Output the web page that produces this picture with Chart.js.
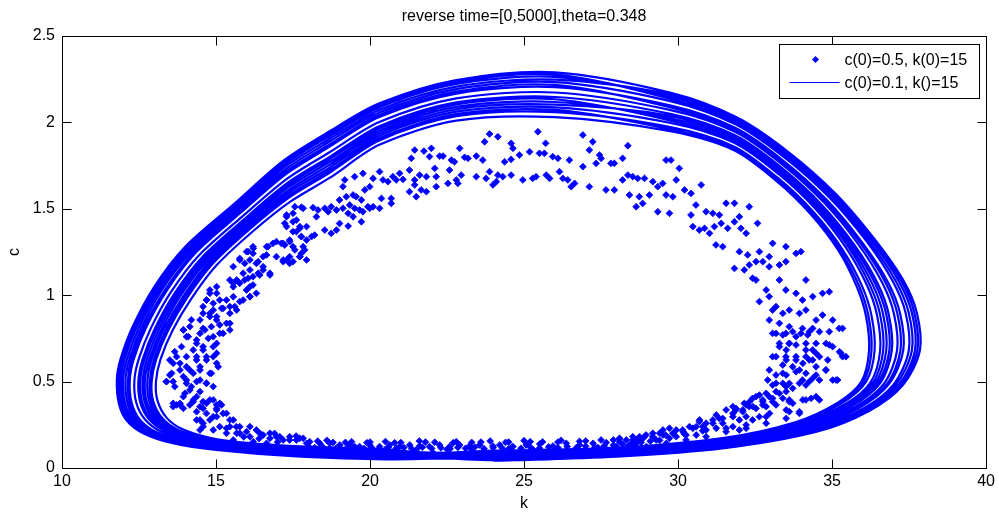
<!DOCTYPE html>
<html>
<head>
<meta charset="utf-8">
<script src="https://cdn.jsdelivr.net/npm/chart.js@4.4.1/dist/chart.umd.min.js"></script>
<style>
html,body{margin:0;padding:0;background:#fff;}
#wrap{width:999px;height:517px;}
</style>
</head>
<body>
<div id="wrap"><canvas id="c" width="999" height="517"></canvas></div>
<script>
// ---------- text ----------
const TITLE_TEXT = 'reverse time=[0,5000],theta=0.348';
const X_LABEL = 'k';
const Y_LABEL = 'c';
const SCATTER_LABEL = 'c(0)=0.5, k(0)=15';
const LINE_LABEL = 'c(0)=0.1, k()=15';

// ---------- ticks ----------
const xTicks = [10, 15, 20, 25, 30, 35, 40];
const yTicks = [0, 0.5, 1, 1.5, 2, 2.5];

// ---------- trajectory c(0)=0.1, k(0)=15 : loops of the limit cycle band [k, c] ----------
const loop0 = [[24.0,0.042],[28.0,0.066],[31.5,0.115],[34.5,0.21],[36.2,0.33],[37.3,0.48],[37.85,0.68],[37.75,0.9],[37.3,1.09],[36.4,1.32],[35.1,1.59],[33.5,1.84],[31.9,2.03],[29.8,2.17],[26.0,2.29],[22.8,2.245],[20.3,2.11],[18.7,1.95],[17.2,1.78],[15.6,1.53],[14.0,1.28],[13.0,1.05],[12.3,0.82],[11.9,0.63],[11.78,0.51],[11.85,0.37],[12.1,0.275],[12.65,0.2],[13.6,0.143],[15.0,0.104],[17.5,0.068],[20.5,0.05]];
const loop1 = [[24.0,0.048],[28.0,0.071],[31.5,0.121],[34.43,0.216],[36.1,0.335],[37.17,0.482],[37.69,0.68],[37.59,0.898],[37.15,1.086],[36.28,1.314],[35.02,1.578],[33.47,1.822],[31.89,2.011],[29.79,2.148],[26.0,2.264],[22.8,2.222],[20.3,2.086],[18.7,1.923],[17.22,1.756],[15.66,1.514],[14.1,1.269],[13.12,1.043],[12.43,0.818],[12.03,0.63],[11.91,0.51],[11.98,0.372],[12.23,0.277],[12.78,0.203],[13.72,0.146],[15.1,0.108],[17.52,0.074],[20.5,0.056]];
const loop2 = [[24.0,0.055],[28.0,0.077],[31.5,0.128],[34.35,0.222],[35.98,0.341],[37.0,0.484],[37.49,0.68],[37.39,0.896],[36.97,1.081],[36.14,1.307],[34.92,1.564],[33.43,1.8],[31.88,1.988],[29.78,2.122],[26.0,2.233],[22.8,2.193],[20.3,2.057],[18.7,1.891],[17.24,1.727],[15.73,1.495],[14.22,1.256],[13.26,1.035],[12.59,0.816],[12.19,0.63],[12.06,0.508],[12.13,0.374],[12.39,0.278],[12.93,0.206],[13.86,0.15],[15.22,0.113],[17.54,0.081],[20.5,0.063]];
const loop3 = [[24.0,0.061],[28.0,0.083],[31.5,0.135],[34.27,0.228],[35.87,0.347],[36.85,0.487],[37.31,0.68],[37.21,0.893],[36.81,1.077],[36.0,1.3],[34.84,1.55],[33.4,1.781],[31.87,1.967],[29.77,2.097],[26.0,2.204],[22.8,2.167],[20.3,2.031],[18.7,1.861],[17.27,1.701],[15.8,1.477],[14.33,1.244],[13.4,1.027],[12.73,0.813],[12.33,0.63],[12.2,0.507],[12.26,0.377],[12.53,0.28],[13.06,0.208],[14.0,0.154],[15.33,0.118],[17.57,0.087],[20.5,0.069]];
const loop4 = [[24.0,0.068],[28.0,0.089],[31.5,0.142],[34.19,0.235],[35.75,0.353],[36.69,0.489],[37.11,0.68],[37.01,0.891],[36.63,1.072],[35.86,1.293],[34.74,1.536],[33.37,1.759],[31.86,1.945],[29.76,2.071],[26.0,2.173],[22.8,2.139],[20.3,2.002],[18.7,1.829],[17.29,1.672],[15.87,1.458],[14.45,1.231],[13.54,1.019],[12.89,0.811],[12.49,0.63],[12.35,0.506],[12.41,0.379],[12.69,0.282],[13.21,0.211],[14.14,0.157],[15.45,0.122],[17.59,0.094],[20.5,0.076]];
const loop5 = [[24.0,0.074],[28.0,0.095],[31.5,0.148],[34.12,0.24],[35.65,0.358],[36.56,0.491],[36.94,0.68],[36.84,0.889],[36.48,1.068],[35.74,1.287],[34.66,1.524],[33.34,1.741],[31.85,1.925],[29.75,2.049],[26.0,2.147],[22.8,2.116],[20.3,1.978],[18.7,1.802],[17.31,1.648],[15.93,1.442],[14.55,1.22],[13.66,1.012],[13.02,0.809],[12.62,0.63],[12.48,0.505],[12.54,0.381],[12.82,0.283],[13.34,0.214],[14.26,0.161],[15.55,0.127],[17.61,0.099],[20.5,0.082]];
const loop6 = [[24.0,0.08],[28.0,0.1],[31.5,0.155],[34.04,0.246],[35.54,0.363],[36.41,0.493],[36.76,0.68],[36.66,0.887],[36.31,1.064],[35.61,1.28],[34.57,1.511],[33.3,1.721],[31.83,1.905],[29.73,2.025],[26.0,2.118],[22.8,2.09],[20.3,1.952],[18.7,1.772],[17.33,1.622],[16.0,1.424],[14.66,1.207],[13.79,1.004],[13.16,0.807],[12.76,0.63],[12.62,0.503],[12.68,0.383],[12.96,0.285],[13.48,0.217],[14.39,0.164],[15.66,0.131],[17.63,0.106],[20.5,0.088]];
const loop7 = [[24.0,0.087],[28.0,0.107],[31.5,0.162],[33.95,0.253],[35.42,0.369],[36.25,0.496],[36.56,0.68],[36.46,0.884],[36.13,1.059],[35.46,1.273],[34.48,1.496],[33.27,1.7],[31.82,1.882],[29.72,1.998],[26.0,2.087],[22.8,2.062],[20.3,1.923],[18.7,1.739],[17.36,1.593],[16.07,1.405],[14.78,1.194],[13.94,0.995],[13.31,0.804],[12.91,0.63],[12.77,0.502],[12.83,0.386],[13.11,0.287],[13.63,0.22],[14.54,0.168],[15.78,0.136],[17.66,0.112],[20.5,0.095]];
const loop8 = [[24.0,0.094],[28.0,0.112],[31.5,0.168],[33.88,0.259],[35.31,0.375],[36.1,0.498],[36.38,0.68],[36.28,0.882],[35.97,1.054],[35.33,1.267],[34.39,1.483],[33.23,1.68],[31.81,1.861],[29.71,1.974],[26.0,2.059],[22.8,2.036],[20.3,1.896],[18.7,1.71],[17.38,1.566],[16.13,1.388],[14.89,1.182],[14.07,0.988],[13.46,0.802],[13.06,0.63],[12.91,0.501],[12.96,0.388],[13.26,0.288],[13.76,0.222],[14.67,0.171],[15.89,0.14],[17.68,0.119],[20.5,0.102]];
const loop9 = [[24.0,0.1],[28.0,0.118],[31.5,0.175],[33.8,0.265],[35.2,0.38],[35.95,0.5],[36.2,0.68],[36.1,0.88],[35.8,1.05],[35.2,1.26],[34.3,1.47],[33.2,1.66],[31.8,1.84],[29.7,1.95],[26.0,2.03],[22.8,2.01],[20.3,1.87],[18.7,1.68],[17.4,1.54],[16.2,1.37],[15.0,1.17],[14.2,0.98],[13.6,0.8],[13.2,0.63],[13.05,0.5],[13.1,0.39],[13.4,0.29],[13.9,0.225],[14.8,0.175],[16.0,0.145],[17.7,0.125],[20.5,0.108]];
const loop10 = [[24.0,0.045],[28.0,0.069],[31.5,0.118],[34.47,0.213],[36.15,0.333],[37.23,0.481],[37.77,0.68],[37.67,0.899],[37.23,1.088],[36.34,1.317],[35.06,1.584],[33.49,1.831],[31.9,2.02],[29.8,2.159],[26.0,2.248],[22.8,2.207],[20.3,2.072],[18.7,1.907],[17.23,1.742],[15.7,1.504],[14.16,1.262],[13.19,1.039],[12.51,0.817],[12.11,0.63],[11.98,0.508],[12.05,0.373],[12.31,0.277],[12.85,0.204],[13.79,0.148],[15.16,0.111],[17.53,0.077],[20.5,0.059]];
const loop11 = [[24.0,0.051],[28.0,0.074],[31.5,0.125],[34.39,0.219],[36.04,0.338],[37.08,0.483],[37.59,0.68],[37.49,0.897],[37.06,1.084],[36.21,1.31],[34.97,1.571],[33.45,1.811],[31.88,2.0],[29.78,2.135],[26.0,2.277],[22.8,2.233],[20.3,2.098],[18.7,1.937],[17.21,1.768],[15.63,1.522],[14.05,1.275],[13.06,1.047],[12.37,0.819],[11.97,0.63],[11.84,0.51],[11.91,0.371],[12.17,0.276],[12.71,0.201],[13.66,0.145],[15.05,0.106],[17.51,0.071],[20.5,0.053]];
const loop12 = [[24.0,0.064],[28.0,0.086],[31.5,0.138],[34.23,0.231],[35.82,0.349],[36.79,0.488],[37.22,0.68],[37.12,0.892],[36.73,1.075],[35.94,1.297],[34.8,1.544],[33.39,1.772],[31.86,1.958],[29.76,2.086],[26.0,2.217],[22.8,2.179],[20.3,2.043],[18.7,1.874],[17.26,1.713],[15.77,1.485],[14.28,1.249],[13.34,1.03],[12.66,0.814],[12.26,0.63],[12.14,0.507],[12.2,0.376],[12.46,0.279],[13.0,0.207],[13.94,0.152],[15.28,0.115],[17.56,0.084],[20.5,0.066]];
const loop13 = [[24.0,0.077],[28.0,0.097],[31.5,0.151],[34.08,0.243],[35.6,0.36],[36.49,0.492],[36.86,0.68],[36.76,0.888],[36.4,1.066],[35.68,1.284],[34.62,1.518],[33.32,1.732],[31.84,1.916],[29.74,2.038],[26.0,2.103],[22.8,2.076],[20.3,1.937],[18.7,1.756],[17.34,1.607],[16.03,1.415],[14.72,1.201],[13.86,1.0],[13.24,0.806],[12.84,0.63],[12.69,0.503],[12.75,0.384],[13.04,0.286],[13.55,0.218],[14.46,0.166],[15.72,0.134],[17.64,0.109],[20.5,0.092]];
const loop14 = [[24.0,0.084],[28.0,0.103],[31.5,0.158],[34.0,0.25],[35.48,0.366],[36.33,0.494],[36.66,0.68],[36.56,0.886],[36.22,1.061],[35.54,1.277],[34.52,1.504],[33.28,1.71],[31.83,1.893],[29.73,2.012],[26.0,2.134],[22.8,2.104],[20.3,1.966],[18.7,1.788],[17.32,1.636],[15.96,1.434],[14.6,1.214],[13.72,1.008],[13.08,0.808],[12.68,0.63],[12.54,0.504],[12.6,0.382],[12.88,0.284],[13.4,0.215],[14.32,0.162],[15.6,0.129],[17.62,0.102],[20.5,0.085]];
const loop15 = [[24.0,0.097],[28.0,0.115],[31.5,0.172],[33.84,0.262],[35.25,0.378],[36.02,0.499],[36.28,0.68],[36.18,0.881],[35.88,1.052],[35.26,1.263],[34.34,1.476],[33.22,1.669],[31.81,1.85],[29.71,1.961],[26.0,2.072],[22.8,2.048],[20.3,1.908],[18.7,1.723],[17.37,1.578],[16.1,1.396],[14.84,1.188],[14.01,0.991],[13.39,0.803],[12.99,0.63],[12.85,0.502],[12.9,0.387],[13.19,0.288],[13.7,0.221],[14.61,0.17],[15.84,0.138],[17.67,0.116],[20.5,0.099]];

// ---------- scattered run c(0)=0.5, k(0)=15 [k, c] ----------
const scatterTop = [[25.45,1.946],[23.88,1.933],[24.15,1.917],[26.91,1.927],[27.23,1.888],[23.72,1.888],[24.58,1.879],[25.70,1.879],[28.37,1.865],[22.91,1.850],[21.45,1.840],[21.99,1.850],[21.75,1.834],[24.64,1.850],[25.18,1.830],[25.50,1.821],[25.66,1.821],[27.12,1.840],[27.45,1.811],[27.50,1.792],[23.45,1.805],[23.07,1.798],[23.18,1.792],[22.64,1.782],[22.74,1.772],[22.37,1.805],[22.26,1.805],[23.66,1.782],[24.85,1.811],[24.58,1.786],[24.37,1.772],[25.93,1.802],[26.10,1.792],[26.47,1.782],[27.82,1.763],[27.93,1.763],[26.91,1.744],[27.34,1.763],[28.20,1.792],[29.61,1.782],[21.34,1.792],[21.93,1.802],[20.96,1.705],[21.28,1.724],[21.61,1.695],[20.74,1.686],[20.31,1.715],[20.10,1.676],[19.77,1.705],[19.50,1.686],[19.18,1.667],[20.42,1.667],[20.58,1.657],[20.85,1.667],[21.07,1.670],[21.45,1.667],[21.83,1.686],[22.10,1.734],[22.15,1.686],[22.58,1.724],[22.96,1.695],[23.45,1.686],[23.77,1.676],[23.88,1.715],[24.15,1.695],[24.31,1.686],[24.58,1.695],[24.96,1.667],[25.28,1.676],[25.39,1.686],[25.72,1.695],[25.83,1.676],[26.15,1.715],[26.26,1.676],[26.42,1.667],[26.64,1.647],[26.53,1.628],[27.12,1.628],[27.66,1.609],[27.93,1.609],[28.20,1.667],[28.37,1.695],[28.53,1.686],[28.69,1.676],[28.91,1.676],[29.18,1.657],[29.34,1.628],[29.50,1.647],[29.61,1.580],[29.07,1.580],[28.74,1.570],[28.85,1.531],[28.64,1.512],[29.34,1.483],[28.42,1.580],[19.99,1.628],[19.83,1.609],[21.28,1.599],[21.45,1.638],[21.66,1.609],[21.83,1.599],[21.50,1.570],[22.15,1.628],[22.53,1.647],[22.80,1.667],[22.85,1.647],[24.10,1.657],[23.99,1.638],[19.12,1.628],[19.01,1.551],[19.23,1.570],[19.45,1.580],[19.55,1.570],[19.72,1.551],[19.34,1.522],[19.50,1.503],[19.66,1.493],[19.77,1.483],[19.99,1.503],[20.10,1.512],[20.31,1.503],[20.37,1.560],[20.69,1.560],[20.69,1.531],[18.74,1.512],[18.91,1.493],[19.12,1.503],[19.29,1.474],[19.45,1.454],[19.72,1.425],[19.01,1.415],[19.29,1.400],[18.91,1.377],[18.74,1.358],[19.93,1.512]];
const scatterLeft = [[17.77,1.509],[18.15,1.507],[18.31,1.493],[18.53,1.503],[18.64,1.483],[18.26,1.454],[17.29,1.464],[17.50,1.474],[17.23,1.416],[17.61,1.435],[17.72,1.387],[17.50,1.368],[17.77,1.339],[17.94,1.397],[18.10,1.339],[18.20,1.348],[18.53,1.377],[16.85,1.300],[17.12,1.300],[17.23,1.290],[17.39,1.310],[17.50,1.281],[17.56,1.262],[17.77,1.242],[16.64,1.281],[16.20,1.281],[16.04,1.252],[15.77,1.204],[15.93,1.184],[16.20,1.242],[16.37,1.194],[16.53,1.223],[16.75,1.117],[17.18,1.194],[17.29,1.204],[17.39,1.184],[17.50,1.194],[17.72,1.223],[17.88,1.262],[15.56,1.165],[15.45,1.088],[15.56,1.069],[15.72,1.078],[15.93,1.088],[16.04,1.098],[16.20,1.107],[16.37,1.127],[16.53,1.146],[16.20,1.059],[15.99,1.030],[16.10,0.992],[15.77,0.963],[15.61,0.934],[15.45,0.895],[15.02,1.011],[14.80,1.030],[15.12,0.972],[15.23,0.924],[14.91,0.914],[14.69,0.972],[14.58,0.895],[14.48,0.857],[14.64,0.799],[14.80,0.876],[15.02,0.857],[15.34,0.837],[15.45,0.799],[15.12,0.779],[14.91,0.760],[15.02,0.721],[14.58,0.702],[14.37,0.741],[14.20,0.857],[13.94,0.799],[14.04,0.760],[13.88,0.702],[14.37,0.644],[14.69,0.644],[14.91,0.644],[14.48,0.586],[14.26,0.548],[14.04,0.586],[13.72,0.644],[13.61,0.606],[13.83,0.567],[13.39,0.500],[13.50,0.538],[13.66,0.471],[14.04,0.509],[14.20,0.471],[14.48,0.509],[14.69,0.490],[14.85,0.548],[15.07,0.586],[13.99,0.432],[14.37,0.413],[14.80,0.394],[14.15,0.365],[13.83,0.365],[15.02,0.365],[14.58,0.345],[13.61,0.374],[17.56,1.512],[17.83,1.503],[17.29,1.454],[17.50,1.425],[17.72,1.397],[17.29,1.397],[17.61,1.368],[17.77,1.339],[17.94,1.319],[17.39,1.319],[17.18,1.300],[16.96,1.310],[16.69,1.281],[16.64,1.233],[16.96,1.223],[17.18,1.204],[17.39,1.223],[17.72,1.223],[17.83,1.281],[17.94,1.204],[16.21,1.271],[15.99,1.252],[15.77,1.213],[16.10,1.204],[16.31,1.184],[16.53,1.165],[16.75,1.127],[16.42,1.117],[16.10,1.146],[15.88,1.127],[15.67,1.088],[15.56,1.049],[15.77,1.069],[16.10,1.049],[16.31,1.011],[16.10,0.991],[15.88,0.972],[15.56,0.991],[15.34,0.972],[15.02,1.049],[14.80,1.011],[14.69,0.972],[14.58,0.934],[14.91,0.953],[15.18,0.924],[15.45,0.934],[15.67,0.914],[14.80,0.895],[15.02,0.876],[13.94,0.799],[14.15,0.818],[14.10,0.760],[14.48,0.779],[14.58,0.808],[14.85,0.818],[15.12,0.828],[15.45,0.837],[15.23,0.779],[14.75,0.750],[14.37,0.721],[14.26,0.683],[14.58,0.683],[14.91,0.702],[15.02,0.664],[13.66,0.673],[13.50,0.625],[13.83,0.606],[14.04,0.644],[14.37,0.625],[14.69,0.625],[15.02,0.606],[14.15,0.567],[14.48,0.567],[14.80,0.548],[13.94,0.529],[13.56,0.548],[13.39,0.500],[13.61,0.500],[14.04,0.490],[14.37,0.500],[14.69,0.490],[14.91,0.471],[14.15,0.451],[14.48,0.442],[13.94,0.413],[14.26,0.394],[13.72,0.365],[13.94,0.345],[14.58,0.384],[14.91,0.394],[15.18,0.365],[14.37,0.326],[14.69,0.316],[15.02,0.336],[14.48,0.278],[14.80,0.278],[15.02,0.297],[15.34,0.316],[15.56,0.278],[15.12,0.239],[15.45,0.239],[15.77,0.239],[15.99,0.210],[16.31,0.220],[16.10,0.181],[16.53,0.191],[16.75,0.172],[16.96,0.181],[17.18,0.162],[17.39,0.181],[17.61,0.162],[17.83,0.172],[17.94,0.143],[16.64,0.143],[14.58,0.239],[15.34,0.201],[15.67,0.201]];
const scatterBottom = [[13.61,0.355],[13.83,0.374],[14.26,0.384],[14.48,0.355],[14.69,0.374],[15.02,0.345],[15.12,0.374],[14.37,0.278],[14.58,0.259],[14.91,0.297],[15.23,0.316],[15.45,0.278],[15.66,0.239],[14.48,0.220],[14.91,0.220],[15.34,0.230],[15.77,0.201],[16.10,0.239],[16.42,0.201],[16.75,0.201],[17.07,0.181],[17.39,0.162],[17.72,0.172],[18.04,0.152],[18.37,0.143],[18.69,0.143],[19.02,0.133],[19.34,0.133],[19.66,0.124],[19.99,0.133],[20.31,0.124],[20.64,0.133],[20.96,0.124],[21.29,0.133],[21.61,0.127],[21.93,0.124],[22.26,0.133],[22.58,0.124],[22.91,0.133],[23.23,0.127],[23.56,0.133],[23.99,0.127],[15.56,0.162],[16.21,0.152],[16.96,0.124],[17.72,0.104],[18.37,0.094],[19.23,0.094],[20.21,0.094],[20.96,0.085],[22.04,0.089],[23.12,0.085],[23.99,0.089],[24.21,0.133],[24.64,0.124],[25.07,0.133],[25.51,0.139],[25.94,0.127],[26.37,0.143],[26.80,0.133],[27.24,0.143],[27.67,0.147],[28.10,0.152],[28.53,0.162],[28.86,0.172],[29.18,0.181],[29.51,0.191],[29.83,0.201],[30.16,0.210],[30.48,0.230],[30.80,0.239],[31.13,0.259],[31.45,0.287],[31.78,0.316],[32.10,0.336],[32.43,0.355],[32.75,0.365],[33.07,0.384],[30.70,0.278],[31.24,0.307],[31.78,0.355],[32.32,0.384],[31.99,0.278],[32.64,0.297],[32.97,0.316],[33.51,0.336],[33.72,0.374],[24.43,0.085],[25.07,0.085],[25.72,0.089],[26.37,0.094],[27.02,0.094],[27.67,0.104],[28.32,0.114],[28.97,0.124],[29.62,0.143],[30.26,0.162],[30.91,0.181],[31.56,0.210],[32.21,0.230],[32.86,0.259],[33.51,0.287],[33.94,0.316],[24.5,0.11],[25.3,0.105],[26.0,0.112],[26.7,0.11],[27.4,0.118],[28.0,0.125],[28.6,0.135],[21.5,0.105],[22.5,0.108],[23.3,0.105],[20.5,0.108],[19.6,0.11],[18.9,0.115],[18.0,0.125],[17.0,0.15],[16.4,0.17],[15.9,0.18],[19.2,0.148],[20.0,0.15],[20.8,0.146],[21.8,0.15],[22.7,0.146],[23.6,0.15],[24.4,0.148],[25.2,0.152],[26.1,0.15],[27.0,0.156],[27.9,0.162],[28.7,0.17],[18.6,0.16],[17.6,0.185],[16.9,0.2],[18.2,0.118],[18.45,0.125],[18.7,0.112],[19.0,0.12],[19.25,0.116],[19.5,0.124],[19.8,0.113],[20.05,0.119],[20.3,0.112],[20.6,0.121],[20.85,0.114],[21.1,0.118],[21.35,0.112],[21.7,0.12],[22.0,0.113],[22.3,0.117],[22.6,0.111],[22.85,0.119],[23.1,0.114],[23.4,0.12],[23.7,0.112],[24.0,0.117],[24.3,0.113],[24.6,0.12],[24.9,0.114],[25.2,0.121],[25.5,0.115],[25.8,0.122],[26.1,0.117],[26.4,0.124],[26.7,0.118],[27.0,0.126],[27.3,0.121],[27.6,0.128],[27.9,0.132],[28.2,0.138],[28.5,0.142],[28.8,0.148],[29.1,0.155],[29.4,0.16],[18.3,0.155],[18.8,0.148],[19.4,0.152],[19.9,0.146],[20.5,0.153],[21.0,0.147],[21.6,0.156],[22.1,0.149],[22.8,0.152],[23.3,0.148],[23.9,0.156],[24.5,0.15],[25.0,0.158],[25.6,0.151],[26.2,0.16],[26.8,0.154],[27.5,0.162],[28.1,0.168],[28.9,0.18],[29.6,0.19],[30.2,0.198],[30.8,0.215]];
const scatterRight = [[29.77,1.782],[30.04,1.734],[29.94,1.667],[30.21,1.609],[30.42,1.589],[29.83,1.570],[29.72,1.474],[30.75,1.638],[30.58,1.522],[30.91,1.483],[31.13,1.474],[31.34,1.464],[31.56,1.532],[31.83,1.532],[32.31,1.512],[30.42,1.464],[30.48,1.397],[30.69,1.377],[30.86,1.387],[31.02,1.358],[31.18,1.397],[31.40,1.416],[31.61,1.387],[31.83,1.425],[31.99,1.454],[32.21,1.358],[32.04,1.387],[32.58,1.416],[31.23,1.291],[31.45,1.281],[31.99,1.252],[32.26,1.233],[32.64,1.252],[32.96,1.223],[33.07,1.300],[33.50,1.281],[33.83,1.242],[33.99,1.252],[33.50,1.194],[33.29,1.175],[32.96,1.165],[32.75,1.194],[32.53,1.194],[32.31,1.175],[31.83,1.155],[32.15,1.146],[32.42,1.098],[32.53,1.088],[32.86,1.030],[33.29,1.088],[33.50,1.030],[33.83,1.011],[34.04,0.972],[34.15,1.088],[34.37,0.992],[34.69,1.011],[34.91,1.020],[32.96,0.992],[32.64,0.963],[33.07,0.914],[33.18,0.934],[33.40,0.895],[33.61,0.914],[33.94,0.895],[34.15,0.914],[34.48,0.856],[34.69,0.885],[35.02,0.856],[35.23,0.808],[35.34,0.808],[32.96,0.856],[33.29,0.837],[33.61,0.818],[34.04,0.808],[34.37,0.808],[33.18,0.779],[33.50,0.779],[33.83,0.760],[34.21,0.770],[34.48,0.721],[34.80,0.721],[35.02,0.702],[35.29,0.664],[35.34,0.644],[33.29,0.702],[33.61,0.721],[34.15,0.683],[34.48,0.664],[34.26,0.625],[34.48,0.586],[34.80,0.567],[35.13,0.509],[33.07,0.644],[33.50,0.644],[33.83,0.625],[32.96,0.567],[33.40,0.548],[33.94,0.567],[33.18,0.490],[33.50,0.471],[34.04,0.509],[34.37,0.519],[32.96,0.413],[33.29,0.432],[32.53,0.413],[32.75,0.384],[33.61,0.394],[34.15,0.394],[34.48,0.413],[32.31,0.355],[31.88,0.345],[32.15,0.374],[33.07,0.779],[33.40,0.770],[33.72,0.789],[33.99,0.779],[34.26,0.789],[34.59,0.789],[34.91,0.789],[33.29,0.721],[33.61,0.721],[33.51,0.683],[33.83,0.712],[34.15,0.721],[34.37,0.683],[34.91,0.712],[35.24,0.673],[35.45,0.644],[33.18,0.644],[33.51,0.625],[33.83,0.644],[34.15,0.644],[34.37,0.625],[34.59,0.644],[34.86,0.625],[34.05,0.606],[33.72,0.586],[33.40,0.596],[33.18,0.538],[33.51,0.538],[33.83,0.557],[34.15,0.548],[34.48,0.538],[34.26,0.500],[34.80,0.567],[35.02,0.509],[35.18,0.509],[32.91,0.509],[33.07,0.480],[33.40,0.490],[33.61,0.490],[33.94,0.490],[34.15,0.480],[34.59,0.509],[32.86,0.432],[33.18,0.442],[33.51,0.442],[33.72,0.461],[32.64,0.422],[32.42,0.403],[32.75,0.394],[33.07,0.403],[33.40,0.403],[33.61,0.384],[34.05,0.394],[34.32,0.403],[34.59,0.394],[32.86,0.355],[33.18,0.365],[32.53,0.345],[32.21,0.365],[32.10,0.326],[31.88,0.336],[31.56,0.336],[31.78,0.297],[32.21,0.297],[32.42,0.278],[32.86,0.297],[33.61,0.326],[33.94,0.326],[31.34,0.287],[31.45,0.259],[31.13,0.278],[30.91,0.259],[30.69,0.268],[30.59,0.239],[30.37,0.239],[30.15,0.220],[29.94,0.220],[29.72,0.230],[29.51,0.220],[29.40,0.201],[29.18,0.201],[28.96,0.191],[28.75,0.181],[28.53,0.181],[28.32,0.162],[28.10,0.172],[30.26,0.191],[30.59,0.191],[30.91,0.220],[31.24,0.230],[31.56,0.230],[31.78,0.239],[32.21,0.249],[31.99,0.220],[29.94,0.181],[29.72,0.172],[29.29,0.162],[28.64,0.143],[28.42,0.133]];

// ---------- styling ----------
const BLUE = '#0000ff';
const INK = '#000000';
const FONT = "'Liberation Sans', Arial, Helvetica, sans-serif";

const toXY = p => ({x: p[0], y: p[1]});
const loops = [loop0, loop12, loop5, loop10, loop2, loop14, loop7, loop1, loop13, loop4, loop9, loop11, loop3, loop15, loop6, loop8];
const trajectory = loops.flat().map(toXY);
const scatterPts = [].concat(scatterTop, scatterLeft, scatterBottom, scatterRight).map(toXY);

Chart.defaults.font.family = FONT;
Chart.defaults.font.size = 16;
Chart.defaults.color = INK;

const overlay = {
  id: 'overlay',
  afterDraw(chart) {
    const {ctx, chartArea: a, scales: {x, y}} = chart;
    ctx.save();
    const L = Math.round(a.left) + 0.5, R = Math.round(a.right) + 0.5;
    const T = Math.round(a.top) + 0.5, B = Math.round(a.bottom) + 0.5;
    ctx.strokeStyle = INK;
    ctx.lineWidth = 1;
    ctx.strokeRect(L, T, R - L, B - T);
    const tl = 9;
    ctx.beginPath();
    xTicks.forEach(v => {
      const px = Math.round(x.getPixelForValue(v)) + 0.5;
      ctx.moveTo(px, B); ctx.lineTo(px, B - tl);
      ctx.moveTo(px, T); ctx.lineTo(px, T + tl);
    });
    yTicks.forEach(v => {
      const py = Math.round(y.getPixelForValue(v)) + 0.5;
      ctx.moveTo(L, py); ctx.lineTo(L + tl, py);
      ctx.moveTo(R, py); ctx.lineTo(R - tl, py);
    });
    ctx.stroke();

    // title
    ctx.fillStyle = INK;
    ctx.font = '16px ' + FONT;
    ctx.textAlign = 'center';
    ctx.textBaseline = 'middle';
    ctx.fillText(TITLE_TEXT, (a.left + a.right) / 2, 17);

    // legend box
    const bw = 200, bh = 54;
    const bx = Math.round(a.right) - 7 - bw + 0.5, by = Math.round(a.top) + 8 + 0.5;
    ctx.fillStyle = '#ffffff';
    ctx.fillRect(bx, by, bw, bh);
    ctx.strokeStyle = INK;
    ctx.strokeRect(bx, by, bw, bh);
    // marker
    const mx = bx + 36, my = by + 15;
    ctx.fillStyle = BLUE;
    ctx.beginPath();
    ctx.moveTo(mx, my - 3.5); ctx.lineTo(mx + 3.5, my); ctx.lineTo(mx, my + 3.5); ctx.lineTo(mx - 3.5, my);
    ctx.closePath(); ctx.fill();
    // line sample
    ctx.strokeStyle = BLUE;
    ctx.beginPath();
    ctx.moveTo(bx + 10, by + 38); ctx.lineTo(bx + 60, by + 38);
    ctx.stroke();
    ctx.fillStyle = INK;
    ctx.textAlign = 'left';
    ctx.fillText(SCATTER_LABEL, bx + 65, by + 16);
    ctx.fillText(LINE_LABEL, bx + 65, by + 39);
    ctx.restore();
  }
};

new Chart(document.getElementById('c'), {
  type: 'scatter',
  data: {
    datasets: [
      {
        label: SCATTER_LABEL,
        data: scatterPts,
        showLine: false,
        pointStyle: 'rectRot',
        pointRadius: 3.4,
        pointBorderWidth: 0.8,
        backgroundColor: BLUE,
        borderColor: BLUE
      },
      {
        label: LINE_LABEL,
        data: trajectory,
        showLine: true,
        pointRadius: 0,
        borderColor: BLUE,
        backgroundColor: BLUE,
        borderWidth: 2.2,
        tension: 0.3
      }
    ]
  },
  options: {
    responsive: false,
    devicePixelRatio: 1,
    animation: false,
    layout: {padding: {top: 36, right: 12, bottom: 0, left: 0}},
    plugins: {legend: {display: false}, tooltip: {enabled: false}, title: {display: false}},
    scales: {
      x: {
        type: 'linear', min: 10, max: 40,
        afterBuildTicks: s => { s.ticks = xTicks.map(v => ({value: v})); },
        ticks: {padding: 4, color: INK, font: {size: 16}, callback: v => String(v)},
        grid: {display: false, drawTicks: false},
        border: {display: false},
        title: {display: true, text: X_LABEL, color: INK, font: {size: 16}, padding: {top: 0, bottom: 4}},
        afterFit: s => { s.height = 49; }
      },
      y: {
        type: 'linear', min: 0, max: 2.5,
        afterBuildTicks: s => { s.ticks = yTicks.map(v => ({value: v})); },
        ticks: {padding: 7, color: INK, font: {size: 16}, callback: v => String(v)},
        grid: {display: false, drawTicks: false},
        border: {display: false},
        title: {display: true, text: Y_LABEL, color: INK, font: {size: 16}, padding: {top: 5, bottom: 0}},
        afterFit: s => { s.width = 62; }
      }
    }
  },
  plugins: [overlay]
});
</script>
</body>
</html>
